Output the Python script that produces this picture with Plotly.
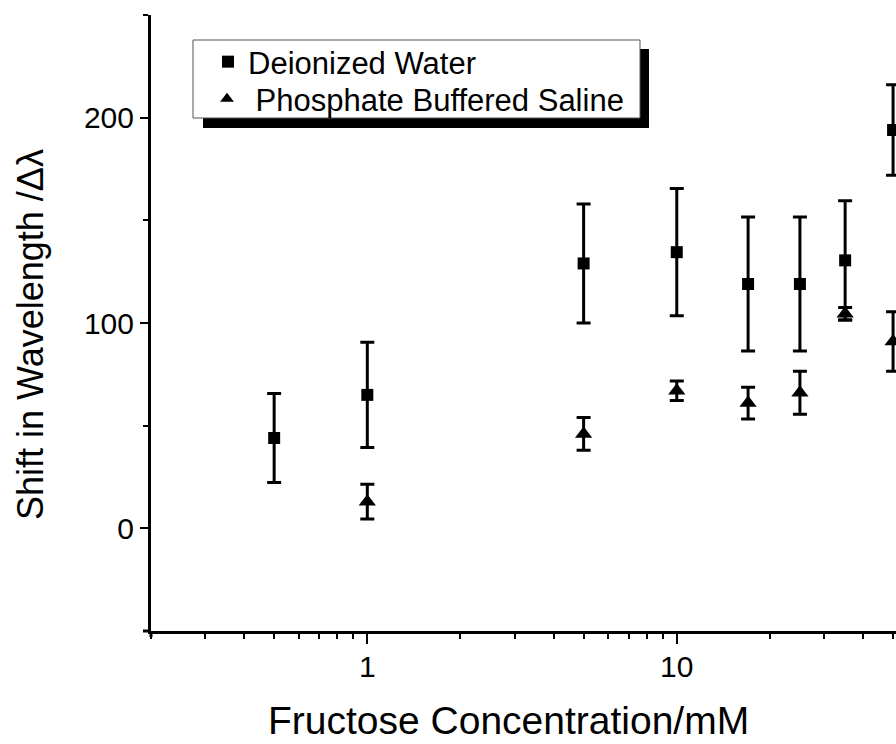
import plotly.graph_objects as go
import math

conc_di = [0.5, 1, 5, 10, 17, 25, 35, 50]
shift_di = [44, 65, 129, 134.5, 119, 119, 130.5, 194]
err_di = [21.7, 25.6, 29, 31, 32.6, 32.6, 29, 22]

conc_pbs = [1, 5, 10, 17, 25, 35, 50]
shift_pbs = [13, 46, 67, 61, 66, 104.5, 91]
err_pbs = [8.5, 8, 4.7, 7.7, 10.5, 3, 14.5]

x_major = [1, 10]
x_minor = [0.2, 0.3, 0.4, 0.5, 0.6, 0.7, 0.8, 0.9, 2, 3, 4, 5, 6, 7, 8, 9, 20, 30, 40, 50]
y_major = [0, 100, 200]
y_minor = [-50, 50, 150, 250]

x_title = "Fructose Concentration/mM"
y_title = "Shift in Wavelength /Δλ"

FONT = "Liberation Sans, Arial, sans-serif"

fig = go.Figure()
fig.add_trace(go.Scatter(
    x=conc_di, y=shift_di, mode="markers", name="Deionized Water",
    marker=dict(symbol="square", size=12, color="black"),
    error_y=dict(type="data", array=err_di, color="black", thickness=3, width=7),
    legend="legend",
))
fig.add_trace(go.Scatter(
    x=conc_pbs, y=shift_pbs, mode="markers", name=" Phosphate Buffered Saline",
    marker=dict(symbol="triangle-up", size=15, color="black"),
    error_y=dict(type="data", array=err_pbs, color="black", thickness=3, width=7),
    legend="legend2",
))

L, R, T, B = 151, 0, 15, 113
W, H = 896, 744
pw = W - L - R
ph = H - T - B

def px_to_paper(xp, yp):
    return (xp - L) / pw, (H - B - yp) / ph

# legend shadow and box
sx0, sy1 = px_to_paper(203, 49)
sx1, sy0 = px_to_paper(649, 128)
fig.add_shape(type="rect", xref="paper", yref="paper", x0=sx0, x1=sx1, y0=sy0, y1=sy1,
              fillcolor="black", line=dict(width=0), layer="above")
bx0, by1 = px_to_paper(193, 40)
bx1, by0 = px_to_paper(640, 118)
fig.add_shape(type="rect", xref="paper", yref="paper", x0=bx0, x1=bx1, y0=by0, y1=by1,
              fillcolor="white", line=dict(width=1, color="#555"), layer="above")

# small axis overhangs at the origin corner
ox0, oy0 = px_to_paper(143, 631)
ox1, _ = px_to_paper(151, 631)
_, oy1 = px_to_paper(151, 637)
fig.add_shape(type="line", xref="paper", yref="paper", x0=ox0, x1=ox1, y0=oy0, y1=oy0,
              line=dict(width=3, color="black"))
fig.add_shape(type="line", xref="paper", yref="paper", x0=0, x1=0, y0=oy0, y1=oy1,
              line=dict(width=3, color="black"))

# axis titles
tx, ty = px_to_paper(508, 743)
fig.add_annotation(text=x_title, xref="paper", yref="paper", x=tx, y=ty,
                   xanchor="center", yanchor="bottom", showarrow=False, borderpad=0,
                   font=dict(size=39, family=FONT, color="black"))
yx, yy = px_to_paper(31, 335)
fig.add_annotation(text=y_title, xref="paper", yref="paper", x=yx, y=yy,
                   xanchor="center", yanchor="middle", showarrow=False, textangle=-90,
                   font=dict(size=36, family=FONT, color="black"))

l1x, l1y = px_to_paper(208, 62)
l2x, l2y = px_to_paper(207, 99)
leg_common = dict(xanchor="left", yanchor="middle", bgcolor="rgba(0,0,0,0)", borderwidth=0,
                  font=dict(size=31, family=FONT, color="black"), itemsizing="constant")

fig.update_layout(
    width=W, height=H,
    margin=dict(l=L, r=R, t=T, b=B),
    paper_bgcolor="white", plot_bgcolor="white",
    font=dict(family=FONT, color="black"),
    showlegend=True,
    legend=dict(x=l1x, y=l1y, **leg_common),
    legend2=dict(x=l2x, y=l2y, **leg_common),
    xaxis=dict(
        type="log", range=[math.log10(0.2), math.log10(51.1)],
        tickvals=x_major, ticktext=[str(v) for v in x_major],
        ticks="outside", ticklen=10, tickwidth=2, tickcolor="black",
        showline=True, linewidth=3, linecolor="black", mirror=False,
        showgrid=False, zeroline=False,
        tickfont=dict(size=30, family=FONT),
        minor=dict(tickvals=x_minor, ticks="outside", ticklen=5, tickwidth=2, tickcolor="black", showgrid=False),
        ticklabelstandoff=-3,
    ),
    yaxis=dict(
        range=[-50, 250],
        tickvals=y_major,
        ticks="outside", ticklen=8, tickwidth=2, tickcolor="black",
        showline=True, linewidth=3, linecolor="black",
        showgrid=False, zeroline=False,
        tickfont=dict(size=30, family=FONT),
        minor=dict(tickvals=y_minor, ticks="outside", ticklen=5, tickwidth=2, tickcolor="black", showgrid=False),
        ticklabelstandoff=0,
    ),
)

fig.write_html("out.html")
